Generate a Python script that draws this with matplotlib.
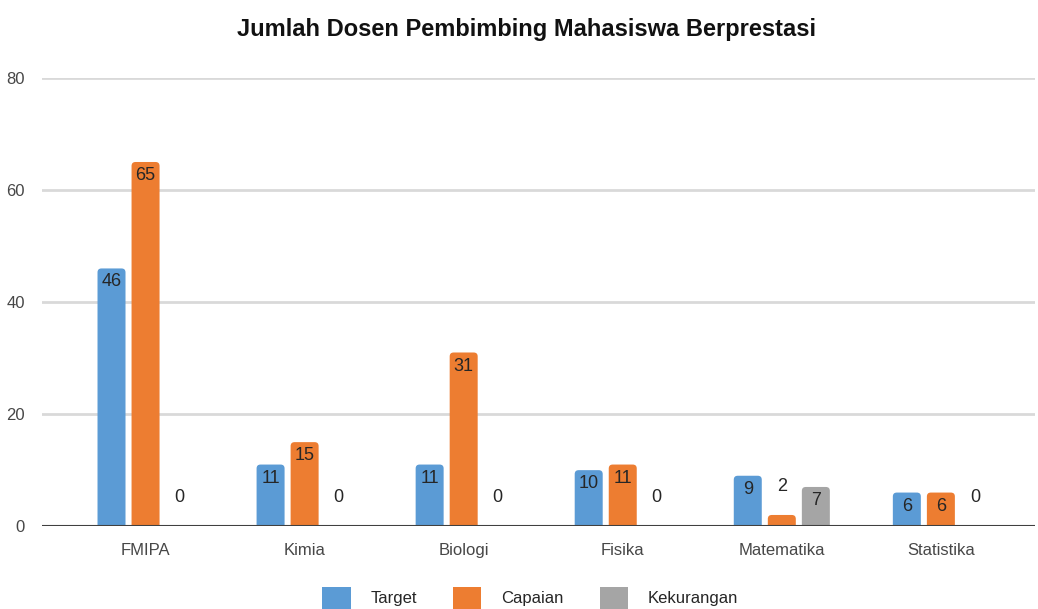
import numpy as np
import matplotlib.pyplot as plt
from matplotlib.patches import FancyBboxPatch, Patch

categories = ['FMIPA', 'Kimia', 'Biologi', 'Fisika', 'Matematika', 'Statistika']
target = [46, 11, 11, 10, 9, 6]
capaian = [65, 15, 31, 11, 2, 6]
kekurangan = [0, 0, 0, 0, 7, 0]
series_names = ['Target', 'Capaian', 'Kekurangan']
colors = ['#5B9BD5', '#ED7D31', '#A5A5A5']

plt.rcParams['font.family'] = ['Liberation Sans', 'DejaVu Sans']

fig = plt.figure(figsize=(10.38, 6.09), dpi=100)
ax = fig.add_axes([0.040, 0.136, 0.957, 0.736])

x = np.arange(len(categories))
w = 0.176
offsets = [-0.214, 0.0, 0.214]

for vals, off, col in zip([target, capaian, kekurangan], offsets, colors):
    bars = ax.bar(x + off, vals, w, color=col)
    for b, v in zip(bars, vals):
        b.set_visible(False)
        if v > 0:
            # rounded top corners like the original
            p = FancyBboxPatch((b.get_x(), -3), b.get_width(), v + 3,
                               boxstyle='round,pad=0,rounding_size=0.025',
                               mutation_aspect=28, facecolor=col, edgecolor='none',
                               zorder=2)
            ax.add_patch(p)
        cx = b.get_x() + b.get_width() / 2
        if v >= 5:
            ax.text(cx, v - 0.9, str(v), ha='center', va='top', fontsize=13,
                    color='#262626', zorder=3)
        else:
            ax.text(cx, v + 3.6, str(v), ha='center', va='bottom', fontsize=13,
                    color='#262626', zorder=3)

ax.set_xlim(-0.654, 5.591)
ax.set_ylim(0, 80)
ax.set_yticks([0, 20, 40, 60, 80])
ax.yaxis.grid(True, color='#d9d9d9', linewidth=2)
ax.set_axisbelow(True)
ax.axhline(0, color='#404040', linewidth=1.5, zorder=4)
for s in ax.spines.values():
    s.set_visible(False)
ax.tick_params(length=0, labelsize=12, colors='#474747')
ax.tick_params(axis='y', pad=12)
ax.tick_params(axis='x', pad=12)
ax.set_xticks(x)
ax.set_xticklabels(categories)

fig.text(0.507, 0.952, 'Jumlah Dosen Pembimbing Mahasiswa Berprestasi',
         ha='center', va='center', fontsize=17, fontweight='bold', color='#111111')

handles = [Patch(facecolor=c, edgecolor='none') for c in colors]
fig.legend(handles, series_names, loc='lower center', ncol=3, frameon=False,
           bbox_to_anchor=(0.511, -0.025), fontsize=12, handlelength=1.7, handleheight=1.7,
           columnspacing=2.15, handletextpad=1.2, labelcolor='#262626')

fig.savefig('out.png', dpi=100)
